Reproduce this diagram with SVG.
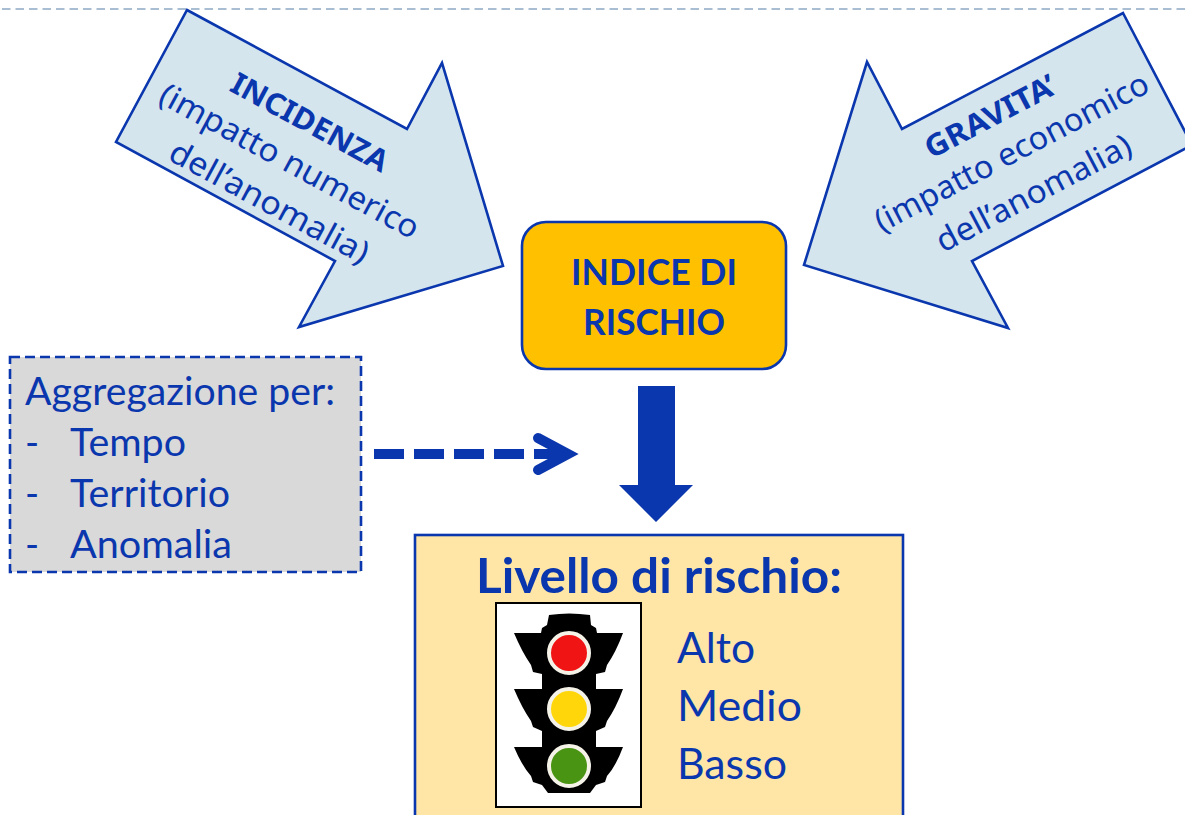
<svg xmlns="http://www.w3.org/2000/svg" width="1185" height="815" viewBox="0 0 1185 815">
<style>
.t{font-family:"Lato","Liberation Sans",sans-serif;fill:#0b37ae}
.r{font-family:"Noto Sans","DejaVu Sans",sans-serif;fill:#0b37ae;text-anchor:middle;font-size:32px}
.rb{font-family:"Noto Sans","DejaVu Sans",sans-serif;fill:#0b37ae;text-anchor:middle;font-size:30px;font-weight:700}
.b{font-weight:700}
.arrow{fill:#d4e5ed;stroke:#0b37ae;stroke-width:2.6;stroke-linejoin:miter}
.house{fill:#000}
</style>
<rect width="1185" height="815" fill="#fff"/>
<line x1="2" y1="9" x2="1185" y2="9" stroke="#a9bdd3" stroke-width="2" stroke-dasharray="8.5 5"/>
<g id="incidenza">
<polygon class="arrow" points="187,10 407,129 442,63 503,266 299,327 335,261 116,142"/>
<text class="rb" transform="translate(310 122) rotate(28.4)" y="11" textLength="174" lengthAdjust="spacingAndGlyphs">INCIDENZA</text>
<text class="r" transform="translate(289 162) rotate(28.4)" y="10" textLength="290" lengthAdjust="spacingAndGlyphs">(impatto numerico</text>
<text class="r" transform="translate(269 203) rotate(28.4)" y="10" textLength="222" lengthAdjust="spacingAndGlyphs">dell’anomalia)</text>
</g>
<g id="gravita">
<polygon class="arrow" points="1123,13 1192,145 972,261 1008,328 804,265 867,62 902,129"/>
<text class="rb" transform="translate(990 116) rotate(-27.7)" y="11" textLength="144" lengthAdjust="spacingAndGlyphs">GRAVITA’</text>
<text class="r" transform="translate(1012 153) rotate(-27.7)" y="10" textLength="305" lengthAdjust="spacingAndGlyphs">(impatto economico</text>
<text class="r" transform="translate(1034 194) rotate(-27.7)" y="10" textLength="216" lengthAdjust="spacingAndGlyphs">dell’anomalia)</text>
</g>
<g id="indice">
<rect x="522" y="222" width="264" height="147" rx="24" fill="#ffc000" stroke="#0b37ae" stroke-width="2.6"/>
<text class="t b" x="571" y="285" font-size="36" textLength="166" lengthAdjust="spacingAndGlyphs">INDICE DI</text>
<text class="t b" x="583" y="335" font-size="36" textLength="142" lengthAdjust="spacingAndGlyphs">RISCHIO</text>
</g>
<g id="aggregazione">
<rect x="10" y="357" width="351" height="215" fill="#d9d9d9" stroke="#0b37ae" stroke-width="2.6" stroke-dasharray="10 5"/>
<text class="t" x="25" y="405" font-size="38" textLength="310" lengthAdjust="spacingAndGlyphs">Aggregazione per:</text>
<text class="t" x="25" y="456" font-size="38">-</text><text class="t" x="70" y="456" font-size="38" textLength="116" lengthAdjust="spacingAndGlyphs">Tempo</text>
<text class="t" x="25" y="507" font-size="38">-</text><text class="t" x="70" y="507" font-size="38" textLength="160" lengthAdjust="spacingAndGlyphs">Territorio</text>
<text class="t" x="25" y="558" font-size="38">-</text><text class="t" x="70" y="558" font-size="38" textLength="162" lengthAdjust="spacingAndGlyphs">Anomalia</text>
</g>
<g id="connectors">
<line x1="374" y1="454" x2="564" y2="454" stroke="#0b37ae" stroke-width="10" stroke-dasharray="30 10"/>
<path d="M538,438 L568,454 L538,470" fill="none" stroke="#0b37ae" stroke-width="10" stroke-linecap="round" stroke-linejoin="miter"/>
<polygon points="638,386 675,386 675,485 693,485 656,522 619,485 638,485" fill="#0b37ae"/>
</g>
<g id="livello">
<rect x="415" y="535" width="488" height="290" fill="#ffe6a6" stroke="#0b37ae" stroke-width="2.6"/>
<text class="t b" x="476" y="593" font-size="48" textLength="366" lengthAdjust="spacingAndGlyphs">Livello di rischio:</text>
<rect x="496" y="603" width="145" height="204" fill="#fff" stroke="#000" stroke-width="2"/>
<g id="semaforo">
<path class="house" d="M549,615 Q569,612 590,615 L591,625 L596,628 L597,633 L623,633 Q616,652 607,665 L605,672 L596,674 L596,689 L623,689 Q616,708 607,721 L605,727 L596,731 L596,747 L623,747 Q616,766 607,776 L605,782 L596,785 L590,793 L548,793 L542,785 L533,782 L531,776 Q522,766 514,747 L542,747 L542,731 L533,727 L531,721 Q522,708 514,689 L542,689 L542,674 L533,672 L531,665 Q522,652 514,633 L541,633 L542,628 L547,625 Z"/>
<circle cx="569" cy="653" r="20" fill="#f01414" stroke="#f5f2e8" stroke-width="4"/>
<circle cx="569" cy="709" r="20" fill="#ffd60a" stroke="#f5f2e8" stroke-width="4"/>
<circle cx="569" cy="766" r="20" fill="#4a9413" stroke="#f5f2e8" stroke-width="4"/>
</g>
<text class="t" x="677" y="663" font-size="42" textLength="78" lengthAdjust="spacingAndGlyphs">Alto</text>
<text class="t" x="677" y="721" font-size="42" textLength="125" lengthAdjust="spacingAndGlyphs">Medio</text>
<text class="t" x="677" y="779" font-size="42" textLength="110" lengthAdjust="spacingAndGlyphs">Basso</text>
</g>
</svg>
